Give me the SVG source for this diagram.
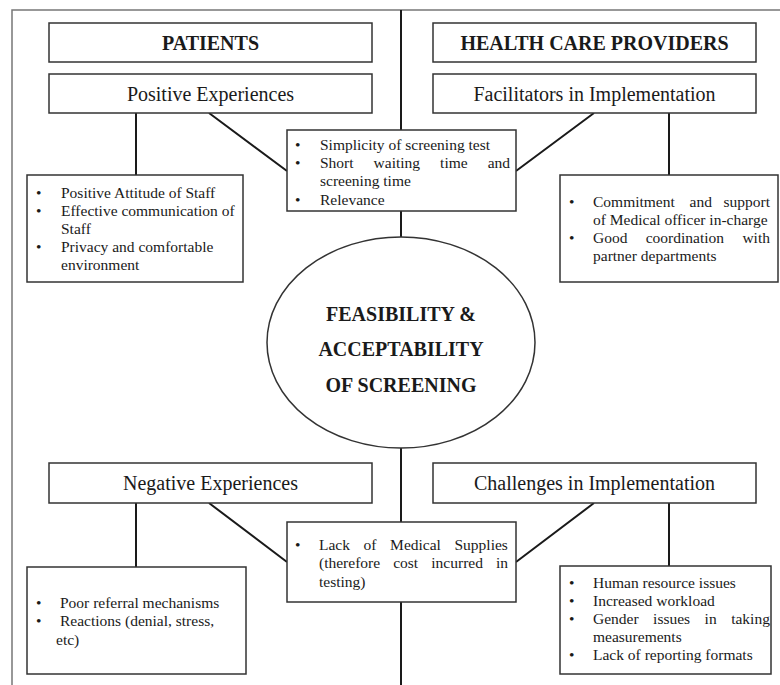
<svg xmlns="http://www.w3.org/2000/svg" width="780" height="685" viewBox="0 0 780 685">
<defs>
<style>
.box{fill:#fff;stroke:#333;stroke-width:1.5}
.con{fill:none;stroke:#1a1a1a;stroke-width:2}
.frame{fill:none;stroke:#777;stroke-width:1.5}
.t{font-family:"Liberation Serif","Times New Roman",serif;fill:#1a1a1a}
.hb{font-size:20px;font-weight:bold;text-anchor:middle}
.h{font-size:20px;text-anchor:middle}
.b{font-size:15.5px}
.el{fill:#fff;stroke:#333;stroke-width:1.5}
</style>
</defs>
<rect width="780" height="685" fill="#fff"/>
<path class="frame" d="M12,685 V10 H780"/>
<g id="connectors">
<path class="con" d="M401,10 V130 M401,211 V237 M401,448 V522 M401,602 V685"/>
<path class="con" d="M136,113 V175 M209,113 L287,171 M594,113 L516,171 M669,113 V175"/>
<path class="con" d="M136,503 V567 M209,503 L287,562 M594,503 L516,562 M669,503 V566"/>
</g>
<g id="patients">
<rect class="box" x="49" y="23" width="323" height="39"/>
<text class="t hb" x="210.5" y="50">PATIENTS</text>
</g>
<g id="providers">
<rect class="box" x="433" y="23" width="323" height="39"/>
<text class="t hb" x="594.5" y="50">HEALTH CARE PROVIDERS</text>
</g>
<g id="positive">
<rect class="box" x="49" y="74" width="323" height="39"/>
<text class="t h" x="210.5" y="101">Positive Experiences</text>
</g>
<g id="facilitators">
<rect class="box" x="433" y="74" width="323" height="39"/>
<text class="t h" x="594.5" y="101">Facilitators in Implementation</text>
</g>
<g id="positive-list">
<rect class="box" x="27" y="175" width="216" height="107"/>
<text class="t b">
<tspan x="36" y="198">•</tspan><tspan x="61" y="198">Positive Attitude of Staff</tspan>
<tspan x="36" y="216">•</tspan><tspan x="61" y="216">Effective communication of</tspan>
<tspan x="61" y="234">Staff</tspan>
<tspan x="36" y="252">•</tspan><tspan x="61" y="252">Privacy and comfortable</tspan>
<tspan x="61" y="270">environment</tspan>
</text>
</g>
<g id="shared-positive">
<rect class="box" x="287" y="130" width="229" height="81"/>
<text class="t b">
<tspan x="295" y="150">•</tspan><tspan x="320" y="150">Simplicity of screening test</tspan>
<tspan x="295" y="168">•</tspan><tspan x="320" y="168">Short</tspan><tspan x="373.6" y="168">waiting</tspan><tspan x="440.1" y="168">time</tspan><tspan x="487.7" y="168">and</tspan>
<tspan x="320" y="186">screening time</tspan>
<tspan x="295" y="205">•</tspan><tspan x="320" y="205">Relevance</tspan>
</text>
</g>
<g id="facilitators-list">
<rect class="box" x="560" y="175" width="218" height="107"/>
<text class="t b">
<tspan x="569" y="207">•</tspan><tspan x="593" y="207">Commitment</tspan><tspan x="689.5" y="207">and</tspan><tspan x="723.5" y="207">support</tspan>
<tspan x="593" y="225">of Medical officer in-charge</tspan>
<tspan x="569" y="243">•</tspan><tspan x="593" y="243">Good</tspan><tspan x="645.7" y="243">coordination</tspan><tspan x="742.4" y="243">with</tspan>
<tspan x="593" y="261">partner departments</tspan>
</text>
</g>
<g id="center">
<ellipse class="el" cx="401" cy="342.5" rx="134" ry="105.5"/>
<text class="t hb" x="401" y="321">FEASIBILITY &amp;</text>
<text class="t hb" x="401" y="356">ACCEPTABILITY</text>
<text class="t hb" x="401" y="392">OF SCREENING</text>
</g>
<g id="negative">
<rect class="box" x="49" y="463" width="323" height="40"/>
<text class="t h" x="210.5" y="490">Negative Experiences</text>
</g>
<g id="challenges">
<rect class="box" x="433" y="463" width="323" height="40"/>
<text class="t h" x="594.5" y="490">Challenges in Implementation</text>
</g>
<g id="negative-list">
<rect class="box" x="27" y="567" width="219" height="107"/>
<text class="t b">
<tspan x="36" y="608">•</tspan><tspan x="60" y="608">Poor referral mechanisms</tspan>
<tspan x="36" y="626">•</tspan><tspan x="60" y="626">Reactions (denial, stress,</tspan>
<tspan x="56" y="645">etc)</tspan>
</text>
</g>
<g id="shared-negative">
<rect class="box" x="287" y="522" width="229" height="80"/>
<text class="t b">
<tspan x="295" y="550">•</tspan><tspan x="319" y="550">Lack</tspan><tspan x="363.6" y="550">of</tspan><tspan x="390.1" y="550">Medical</tspan><tspan x="454.5" y="550">Supplies</tspan>
<tspan x="319" y="568">(therefore</tspan><tspan x="393.2" y="568">cost</tspan><tspan x="431.3" y="568">incurred</tspan><tspan x="496" y="568">in</tspan>
<tspan x="319" y="587">testing)</tspan>
</text>
</g>
<g id="challenges-list">
<rect class="box" x="560" y="566" width="211" height="108"/>
<text class="t b">
<tspan x="569" y="588">•</tspan><tspan x="593" y="588">Human resource issues</tspan>
<tspan x="569" y="606">•</tspan><tspan x="593" y="606">Increased workload</tspan>
<tspan x="569" y="624">•</tspan><tspan x="593" y="624">Gender</tspan><tspan x="653.1" y="624">issues</tspan><tspan x="704.6" y="624">in</tspan><tspan x="731.2" y="624">taking</tspan>
<tspan x="593" y="642">measurements</tspan>
<tspan x="569" y="660">•</tspan><tspan x="593" y="660">Lack of reporting formats</tspan>
</text>
</g>
</svg>
